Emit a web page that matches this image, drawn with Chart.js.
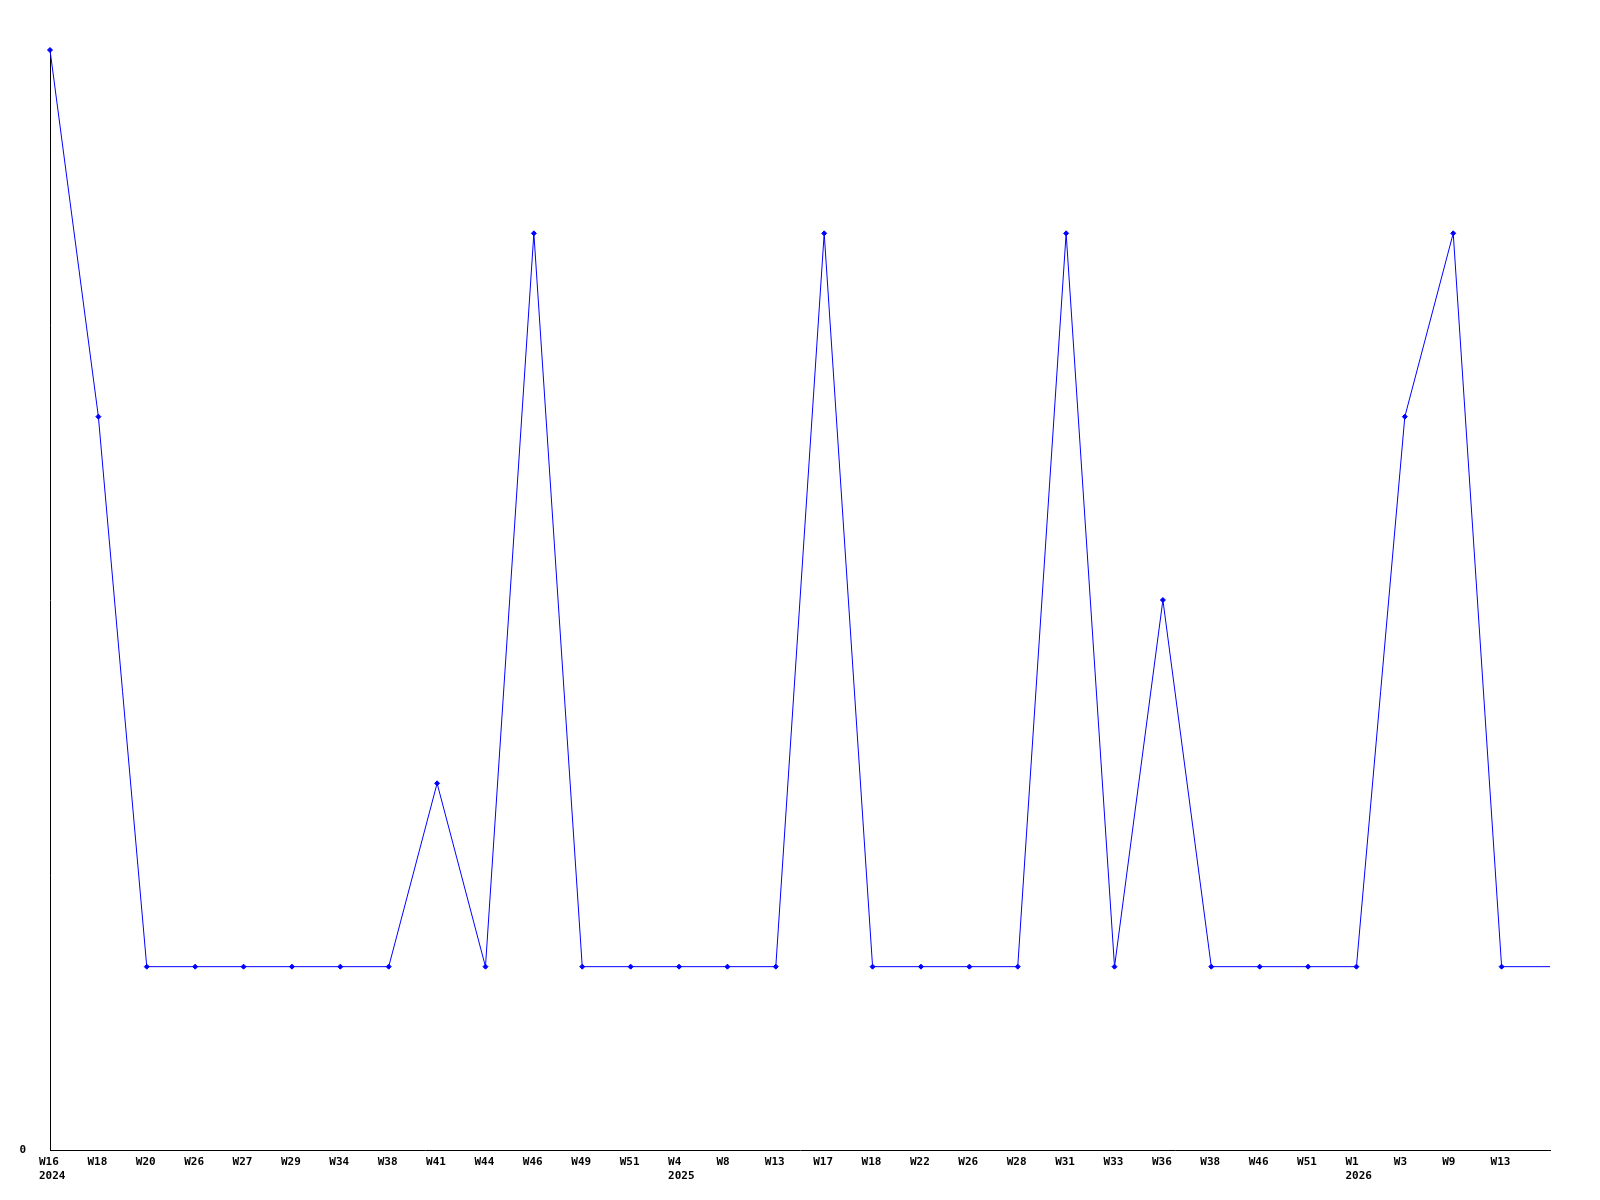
<!DOCTYPE html>
<html>
<head>
<meta charset="utf-8">
<script src="https://cdn.jsdelivr.net/npm/chart.js@4/dist/chart.umd.min.js"></script>
<style>
  body { margin: 0; background: #fff; }
  canvas { display: block; }
</style>
</head>
<body>
<canvas id="graphique" width="1600" height="1200"></canvas>
<script>
// semaines (dernier point sans étiquette, au bord droit)
let semaines = ["W16","W18","W20","W26","W27","W29","W34","W38","W41","W44","W46","W49","W51",
                "W4","W8","W13","W17","W18","W22","W26","W28","W31","W33","W36","W38","W46","W51",
                "W1","W3","W9","W13",""];
let annees = {0: "2024", 13: "2025", 27: "2026"};
let valeurs = [6,4,1,1,1,1,1,1,2,1,5,1,1,1,1,1,5,1,1,1,1,5,1,3,1,1,1,1,4,5,1,1];

let labels = [];
for (let i = 0; i < semaines.length; i++) {
    if (annees[i]) labels.push([semaines[i], annees[i]]);
    else labels.push(semaines[i]);
}

let rayons = valeurs.map(function (v, i) { return i === valeurs.length - 1 ? 0 : 2.5; });

let police = { family: "'DejaVu Sans Mono', monospace", size: 11, weight: "bold" };

let ctx = document.getElementById("graphique").getContext("2d");
let chart = new Chart(ctx, {
    type: "line",
    data: {
        labels: labels,
        datasets: [{
            data: valeurs,
            borderColor: "#0000ff",
            backgroundColor: "#0000ff",
            borderWidth: 1,
            pointStyle: "rectRot",
            pointRadius: rayons,
            pointBorderWidth: 1,
            tension: 0,
            fill: false,
            clip: false
        }]
    },
    options: {
        responsive: false,
        animation: false,
        layout: { padding: { top: 50, right: 50, left: 0, bottom: 0 } },
        plugins: { legend: { display: false }, tooltip: { enabled: false } },
        scales: {
            x: {
                offset: false,
                grid: { display: false, drawTicks: false },
                border: { display: true, color: "#000", width: 1 },
                ticks: {
                    autoSkip: false, maxRotation: 0, minRotation: 0,
                    color: "#000", font: police, padding: 6,
                    align: "start", labelOffset: -11,
                    lineHeight: 1.6
                },
                afterFit: function (axis) { axis.height = 50; }
            },
            y: {
                min: 0, max: 6,
                grid: { display: false, drawTicks: false },
                border: { display: true, color: "#000", width: 1 },
                ticks: {
                    stepSize: 6, color: "#000", font: police, padding: 24,
                    callback: function (v) { return v === 0 ? "0" : ""; }
                },
                afterFit: function (axis) { axis.width = 50; }
            }
        }
    }
});
</script>
</body>
</html>
